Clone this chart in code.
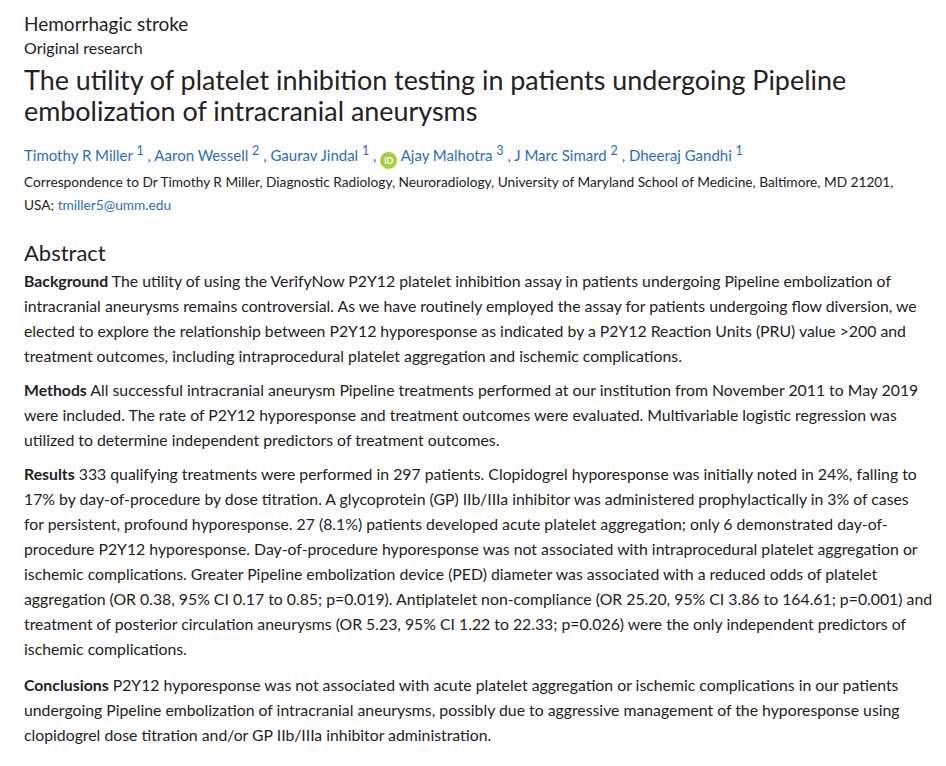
<!DOCTYPE html>
<html><head><meta charset="utf-8">
<script src="https://cdn.jsdelivr.net/npm/chart.js@4"></script>
<style>
body{margin:0;background:#fff;font-family:Lato,"Open Sans",sans-serif;color:#222;width:946px;height:766px;overflow:hidden;position:relative}
.a{position:absolute;left:24px;white-space:nowrap}
.blue{color:#2a6ebb}
p{margin:0}
.body{font-size:15.8px;line-height:25px}
b{font-weight:700}
.orc{display:inline-block;width:17px;height:17px;border-radius:50%;background:#a6ce39;color:#fff;font-size:9px;text-align:center;line-height:17px;vertical-align:-3px;font-weight:bold}
</style></head><body>
<div class="a" style="top:12px;font-size:19px">Hemorrhagic stroke</div>
<div class="a" style="top:38px;font-size:16px">Original research</div>
<div class="a" style="top:64px;font-size:26.9px;line-height:31px">The utility of platelet inhibition testing in patients undergoing Pipeline<br>embolization of intracranial aneurysms</div>
<div class="a blue" style="top:143px;font-size:15px">Timothy R Miller <sup>1</sup> , Aaron Wessell <sup>2</sup> , Gaurav Jindal <sup>1</sup> , <span class="orc">iD</span> Ajay Malhotra <sup>3</sup> , J Marc Simard <sup>2</sup> , Dheeraj Gandhi <sup>1</sup></div>
<div class="a" style="top:170px;font-size:13.7px;line-height:23px">Correspondence to Dr Timothy R Miller, Diagnostic Radiology, Neuroradiology, University of Maryland School of Medicine, Baltimore, MD 21201,<br>USA; <span class="blue">tmiller5@umm.edu</span></div>
<div class="a" style="top:239px;font-size:22px">Abstract</div>
<div class="a body" style="top:268px">
<p><b>Background</b> The utility of using the VerifyNow P2Y12 platelet inhibition assay in patients undergoing Pipeline embolization of<br>intracranial aneurysms remains controversial. As we have routinely employed the assay for patients undergoing flow diversion, we<br>elected to explore the relationship between P2Y12 hyporesponse as indicated by a P2Y12 Reaction Units (PRU) value &gt;200 and<br>treatment outcomes, including intraprocedural platelet aggregation and ischemic complications.</p>
<p style="margin-top:9px"><b>Methods</b> All successful intracranial aneurysm Pipeline treatments performed at our institution from November 2011 to May 2019<br>were included. The rate of P2Y12 hyporesponse and treatment outcomes were evaluated. Multivariable logistic regression was<br>utilized to determine independent predictors of treatment outcomes.</p>
<p style="margin-top:9px"><b>Results</b> 333 qualifying treatments were performed in 297 patients. Clopidogrel hyporesponse was initially noted in 24%, falling to<br>17% by day-of-procedure by dose titration. A glycoprotein (GP) IIb/IIIa inhibitor was administered prophylactically in 3% of cases<br>for persistent, profound hyporesponse. 27 (8.1%) patients developed acute platelet aggregation; only 6 demonstrated day-of-<br>procedure P2Y12 hyporesponse. Day-of-procedure hyporesponse was not associated with intraprocedural platelet aggregation or<br>ischemic complications. Greater Pipeline embolization device (PED) diameter was associated with a reduced odds of platelet<br>aggregation (OR 0.38, 95% CI 0.17 to 0.85; p=0.019). Antiplatelet non-compliance (OR 25.20, 95% CI 3.86 to 164.61; p=0.001) and<br>treatment of posterior circulation aneurysms (OR 5.23, 95% CI 1.22 to 22.33; p=0.026) were the only independent predictors of<br>ischemic complications.</p>
<p style="margin-top:11px"><b>Conclusions</b> P2Y12 hyporesponse was not associated with acute platelet aggregation or ischemic complications in our patients<br>undergoing Pipeline embolization of intracranial aneurysms, possibly due to aggressive management of the hyporesponse using<br>clopidogrel dose titration and/or GP IIb/IIIa inhibitor administration.</p>
</div>
</body></html>
